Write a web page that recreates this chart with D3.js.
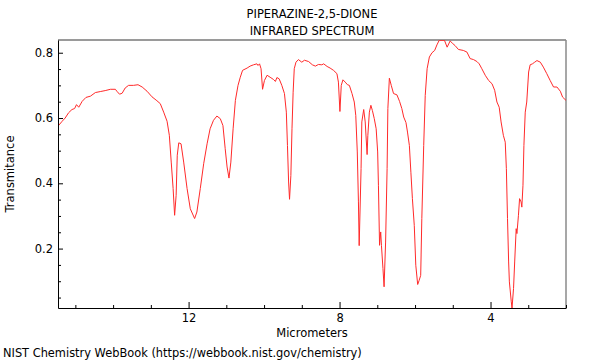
<!DOCTYPE html>
<html><head><meta charset="utf-8">
<script src="https://cdn.jsdelivr.net/npm/d3@7"></script>
<style>body{margin:0;background:#fff}svg{display:block}text{font-family:"DejaVu Sans",sans-serif}</style>
</head><body><svg id="c" width="600" height="360"></svg>
<script>
const titleLines = ["PIPERAZINE-2,5-DIONE", "INFRARED SPECTRUM"];
const xLabel = "Micrometers";
const yLabel = "Transmitance";
const footer = "NIST Chemistry WebBook (https://webbook.nist.gov/chemistry)";
const xMajorTicks = [12, 8, 4];
const xMinorTicks = [15, 14, 13, 11, 10, 9, 7, 6, 5, 3, 2];
const yMajorTicks = [0.2, 0.4, 0.6, 0.8];
const yMinorTicks = [0.05, 0.1, 0.15, 0.25, 0.3, 0.35, 0.45, 0.5, 0.55, 0.65, 0.7, 0.75];
const xDomain = [15.46, 2.0];
const yDomain = [0.018, 0.839];
const micrometers = [15.46,15.35,15.27,15.18,15.09,15.02,14.97,14.91,14.82,14.72,14.60,14.47,14.34,14.21,14.07,13.94,13.90,13.83,13.76,13.68,13.59,13.46,13.34,13.23,13.10,12.97,12.84,12.75,12.66,12.57,12.51,12.46,12.41,12.37,12.33,12.30,12.26,12.20,12.13,12.04,11.955,11.84,11.78,11.69,11.60,11.51,11.43,11.34,11.25,11.16,11.09,11.03,10.98,10.93,10.88,10.82,10.76,10.69,10.63,10.57,10.45,10.37,10.28,10.19,10.16,10.12,10.08,10.04,9.99,9.92,9.84,9.75,9.70,9.66,9.60,9.53,9.46,9.41,9.38,9.35,9.325,9.29,9.26,9.23,9.20,9.155,9.09,9.00,8.93,8.82,8.72,8.64,8.56,8.47,8.42,8.33,8.25,8.16,8.07,8.03,7.99,7.955,7.91,7.85,7.79,7.74,7.67,7.61,7.57,7.53,7.50,7.48,7.43,7.41,7.36,7.32,7.27,7.25,7.21,7.17,7.13,7.08,7.03,6.99,6.97,6.94,6.91,6.89,6.85,6.82,6.78,6.74,6.72,6.68,6.63,6.57,6.48,6.41,6.35,6.30,6.24,6.20,6.15,6.11,6.07,6.02,5.98,5.93,5.89,5.85,5.82,5.77,5.73,5.68,5.62,5.55,5.48,5.42,5.36,5.22,5.15,5.07,5.00,4.94,4.85,4.72,4.625,4.54,4.45,4.36,4.30,4.23,4.14,4.05,3.96,3.89,3.83,3.77,3.72,3.66,3.61,3.58,3.55,3.52,3.50,3.45,3.43,3.39,3.36,3.32,3.30,3.26,3.23,3.19,3.17,3.14,3.115,3.08,3.04,2.99,2.95,2.89,2.83,2.77,2.68,2.60,2.51,2.42,2.33,2.24,2.15,2.09,2.00];
const transmittance = [0.575,0.590,0.600,0.616,0.626,0.629,0.641,0.633,0.651,0.663,0.667,0.678,0.681,0.684,0.688,0.688,0.682,0.673,0.676,0.692,0.700,0.700,0.702,0.695,0.682,0.665,0.653,0.644,0.618,0.590,0.547,0.465,0.384,0.302,0.363,0.486,0.524,0.521,0.465,0.384,0.322,0.292,0.312,0.384,0.460,0.521,0.567,0.593,0.606,0.598,0.577,0.506,0.450,0.416,0.465,0.567,0.654,0.700,0.725,0.746,0.753,0.759,0.763,0.766,0.761,0.766,0.751,0.688,0.715,0.731,0.725,0.718,0.712,0.724,0.720,0.700,0.675,0.618,0.516,0.404,0.351,0.424,0.567,0.679,0.751,0.771,0.779,0.771,0.777,0.773,0.763,0.759,0.764,0.763,0.766,0.758,0.753,0.746,0.736,0.710,0.620,0.700,0.717,0.710,0.702,0.700,0.675,0.649,0.608,0.496,0.343,0.209,0.445,0.588,0.626,0.588,0.488,0.547,0.618,0.639,0.623,0.598,0.567,0.496,0.394,0.210,0.251,0.210,0.139,0.083,0.220,0.445,0.629,0.722,0.700,0.675,0.671,0.651,0.629,0.603,0.586,0.557,0.516,0.434,0.353,0.271,0.149,0.090,0.103,0.118,0.292,0.516,0.669,0.751,0.787,0.800,0.807,0.824,0.838,0.838,0.817,0.836,0.828,0.822,0.810,0.807,0.802,0.782,0.779,0.773,0.766,0.751,0.731,0.715,0.705,0.685,0.649,0.633,0.588,0.547,0.526,0.445,0.292,0.159,0.098,0.037,0.018,0.078,0.159,0.261,0.246,0.302,0.353,0.343,0.327,0.394,0.516,0.618,0.649,0.741,0.763,0.766,0.771,0.776,0.771,0.756,0.736,0.715,0.695,0.695,0.682,0.664,0.654];

const svg = d3.select("#c");
const L = 58, R = 566, T = 40, B = 308;
const x = d3.scaleLinear().domain(xDomain).range([L, R]);
const y = d3.scaleLinear().domain(yDomain).range([B, T]);
const data = micrometers.map((m, i) => ({m, t: transmittance[i]}));

svg.append("defs").append("clipPath").attr("id", "clip")
  .append("rect").attr("x", L).attr("y", T).attr("width", R - L).attr("height", B - T);

// frame (top, right) gray
svg.append("line").attr("x1", L).attr("x2", R).attr("y1", T).attr("y2", T)
  .attr("stroke", "#9a9a9a").attr("stroke-width", 2);
svg.append("line").attr("x1", R).attr("x2", R).attr("y1", T).attr("y2", B)
  .attr("stroke", "#8a8a8a").attr("stroke-width", 1.5);

// spectrum
svg.append("path").datum(data)
  .attr("clip-path", "url(#clip)")
  .attr("fill", "none").attr("stroke", "#ff2a2a").attr("stroke-width", 1)
  .attr("d", d3.line().x(d => x(d.m)).y(d => y(d.t)));

// axes
const fs = "11.5px";
svg.append("g").attr("transform", `translate(${L},0)`)
  .call(d3.axisLeft(y).tickValues(yMajorTicks).tickSize(-5).tickSizeOuter(0).tickPadding(5).tickFormat(d3.format(".1f")));
svg.append("g").attr("transform", `translate(${L},0)`)
  .call(d3.axisLeft(y).tickValues(yMinorTicks).tickSize(-3).tickFormat(""))
  .select(".domain").remove();
svg.append("g").attr("transform", `translate(0,${B})`)
  .call(d3.axisBottom(x).tickValues(xMajorTicks).tickSize(-6).tickSizeOuter(0).tickPadding(6).tickFormat(d3.format("d")));
svg.append("g").attr("transform", `translate(0,${B})`)
  .call(d3.axisBottom(x).tickValues(xMinorTicks).tickSize(-3).tickFormat(""))
  .select(".domain").remove();
svg.selectAll(".domain").attr("stroke", "#000");
svg.selectAll(".tick text").style("font-size", fs).style("font-family", "DejaVu Sans").attr("fill", "#000");

// titles
const cx = (L + R) / 2;
titleLines.forEach((t, i) => svg.append("text").attr("x", cx).attr("y", 18 + i * 16.5)
  .attr("text-anchor", "middle").style("font-size", fs).text(t));
svg.append("text").attr("x", cx).attr("y", 337).attr("text-anchor", "middle").style("font-size", fs).text(xLabel);
svg.append("text").attr("transform", `translate(14,${(T + B) / 2}) rotate(-90)`)
  .attr("text-anchor", "middle").style("font-size", fs).text(yLabel);
svg.append("text").attr("x", 3).attr("y", 357).style("font-size", "11.4px").text(footer);
</script></body></html>
